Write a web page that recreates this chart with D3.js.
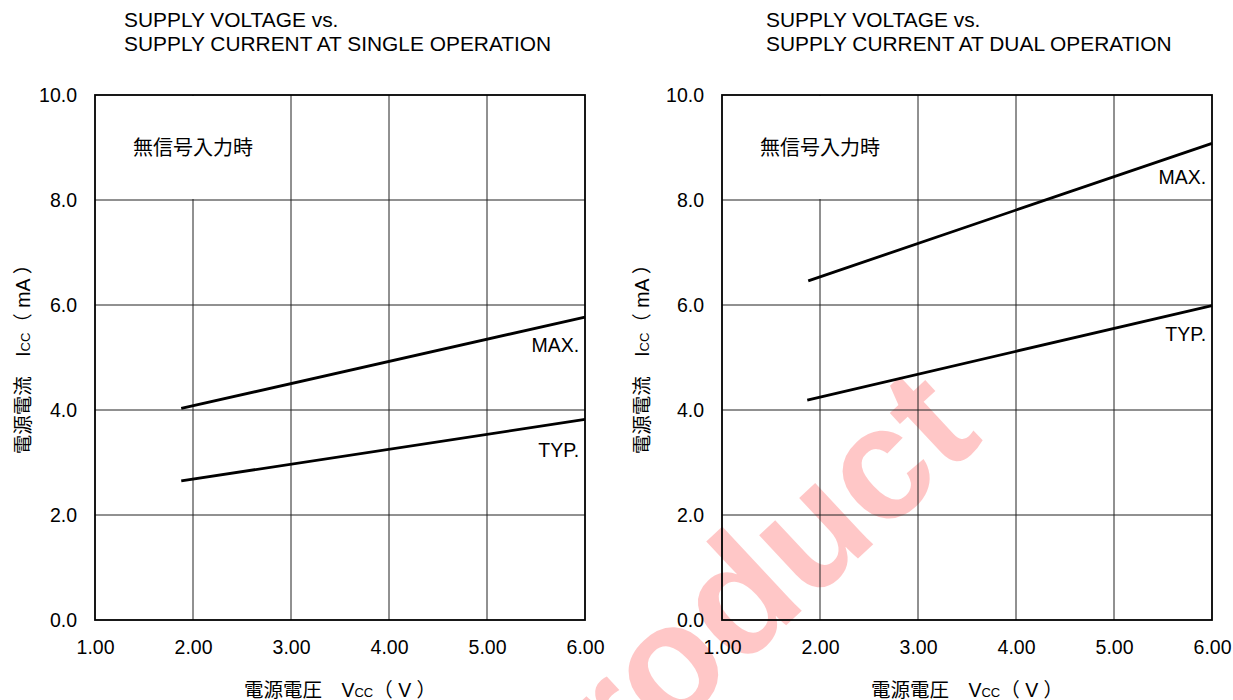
<!DOCTYPE html>
<html>
<head>
<meta charset="utf-8">
<script src="https://cdn.jsdelivr.net/npm/d3@7"></script>
<style>
  html, body { margin: 0; padding: 0; background: #fff; }
  svg { display: block; font-family: "Liberation Sans", Arial, "Noto Sans CJK JP", sans-serif; }
</style>
</head>
<body>
<svg id="chart" width="1233" height="700"></svg>
<script>
// ---- data ----
const xTicks = [1, 2, 3, 4, 5, 6];
const yTicks = [0, 2, 4, 6, 8, 10];
const xTickLabels = ["1.00", "2.00", "3.00", "4.00", "5.00", "6.00"];
const yTickLabels = ["0.0", "2.0", "4.0", "6.0", "8.0", "10.0"];

const singleTitle = ["SUPPLY VOLTAGE vs.", "SUPPLY CURRENT AT SINGLE OPERATION"];
const dualTitle = ["SUPPLY VOLTAGE vs.", "SUPPLY CURRENT AT DUAL OPERATION"];
const conditionLabel = "無信号入力時";

// [Vcc (V), Icc (mA)]
const singleMax = [[1.88, 4.03], [6.0, 5.77]];
const singleTyp = [[1.88, 2.65], [6.0, 3.82]];
const dualMax = [[1.88, 6.46], [6.0, 9.08]];
const dualTyp = [[1.87, 4.19], [6.0, 5.99]];

const seriesNames = ["MAX.", "TYP."];
// label anchor points [Vcc, Icc] (text right-aligned, baseline)
const singleLabelPos = [[5.94, 5.1], [5.94, 3.1]];
const dualLabelPos = [[5.94, 8.3], [5.94, 5.31]];

const watermark = "product";

// ---- layout ----
const svg = d3.select("#chart");
const FS = 19.5;
const plotTop = 95, plotBottom = 620, plotW = 490;

// watermark behind everything
svg.append("text")
  .attr("transform", "translate(985,440) rotate(-43)")
  .attr("text-anchor", "end")
  .attr("font-weight", "bold")
  .attr("font-size", 160)
  .attr("fill", "#ff0000")
  .attr("fill-opacity", 0.22)
  .text(watermark);

const panels = [
  { left: 95, title: singleTitle, titleX: 124, yTitleX: 23, series: [singleMax, singleTyp], labels: singleLabelPos },
  { left: 722, title: dualTitle, titleX: 766, yTitleX: 642, series: [dualMax, dualTyp], labels: dualLabelPos }
];

panels.forEach(p => {
  const x = d3.scaleLinear().domain([1, 6]).range([p.left, p.left + plotW]);
  const y = d3.scaleLinear().domain([0, 10]).range([plotBottom, plotTop]);
  const g = svg.append("g");

  // titles
  const t = g.append("text").attr("font-size", 20.9).attr("fill", "#000");
  p.title.forEach((line, i) => {
    t.append("tspan").attr("x", p.titleX).attr("y", 27 + i * 24).text(line);
  });

  // gridlines
  g.append("g").selectAll("line").data(xTicks.slice(1, -1)).join("line")
    .attr("x1", d => x(d)).attr("x2", d => x(d))
    .attr("y1", y(0)).attr("y2", y(10))
    .attr("stroke", "#222").attr("stroke-width", 1);
  g.append("g").selectAll("line").data(yTicks.slice(1, -1)).join("line")
    .attr("x1", x(1)).attr("x2", x(6))
    .attr("y1", d => y(d)).attr("y2", d => y(d))
    .attr("stroke", "#222").attr("stroke-width", 1);

  // condition label box (covers the grid in the upper-left cell block)
  g.append("rect")
    .attr("x", x(1) + 1).attr("y", y(10) + 1)
    .attr("width", x(3) - x(1) - 2).attr("height", y(8) - y(10) - 2)
    .attr("fill", "#fff");
  g.append("text")
    .attr("x", x(1) + 38).attr("y", y(9) + 7)
    .attr("font-size", 20).attr("font-family", "'Noto Sans CJK JP', sans-serif")
    .text(conditionLabel);

  // frame
  g.append("rect")
    .attr("x", x(1)).attr("y", y(10))
    .attr("width", x(6) - x(1)).attr("height", y(0) - y(10))
    .attr("fill", "none").attr("stroke", "#000").attr("stroke-width", 1.8);

  // axes
  const ya = d3.axisLeft(y).tickValues(yTicks).tickSize(0).tickPadding(18)
    .tickFormat((d, i) => yTickLabels[i]);
  const yg = g.append("g").attr("transform", `translate(${x(1)},0)`).call(ya);
  yg.select(".domain").remove();
  yg.selectAll("text").attr("font-size", FS).attr("font-family", "'Liberation Sans', Arial, sans-serif").attr("fill", "#000");

  const xa = d3.axisBottom(x).tickValues(xTicks).tickSize(0).tickPadding(20)
    .tickFormat((d, i) => xTickLabels[i]);
  const xg = g.append("g").attr("transform", `translate(0,${y(0)})`).call(xa);
  xg.select(".domain").remove();
  xg.selectAll("text").attr("font-size", FS).attr("font-family", "'Liberation Sans', Arial, sans-serif").attr("fill", "#000");

  // series lines
  const line = d3.line().x(d => x(d[0])).y(d => y(d[1]));
  p.series.forEach(s => {
    g.append("path").datum(s).attr("d", line)
      .attr("fill", "none").attr("stroke", "#000").attr("stroke-width", 2.8);
  });
  p.labels.forEach((pos, i) => {
    g.append("text").attr("x", x(pos[0])).attr("y", y(pos[1]))
      .attr("text-anchor", "end").attr("font-size", FS).text(seriesNames[i]);
  });

  // x axis title
  const xt = g.append("text").attr("x", (x(1) + x(6)) / 2).attr("y", 697)
    .attr("text-anchor", "middle").attr("font-size", FS);
  xt.append("tspan").text("電源電圧　V");
  xt.append("tspan").attr("font-size", 13).text("CC");
  xt.append("tspan").text("（ V ）");

  // y axis title
  const yt = g.append("text")
    .attr("transform", `translate(${p.yTitleX + 7},${(plotTop + plotBottom) / 2 - 3}) rotate(-90)`)
    .attr("text-anchor", "middle").attr("font-size", FS);
  yt.append("tspan").text("電源電流　I");
  yt.append("tspan").attr("font-size", 13).text("CC");
  yt.append("tspan").text("（ mA ）");
});
</script>
</body>
</html>
